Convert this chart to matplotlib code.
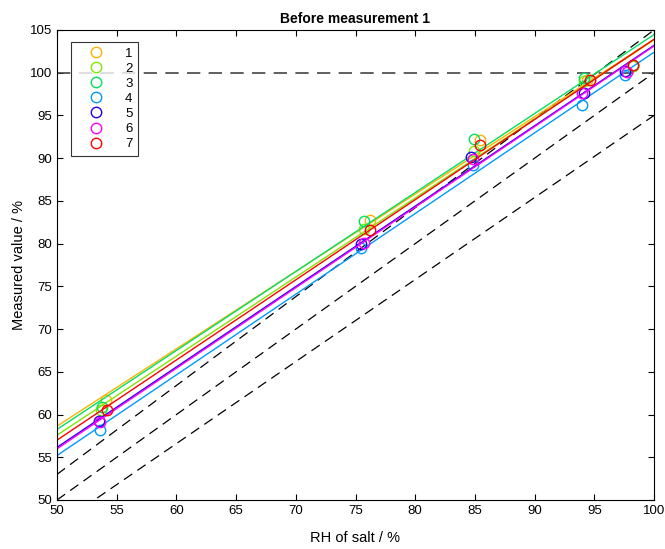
import matplotlib.pyplot as plt
import numpy as np

plt.rcParams['font.family'] = ['Liberation Sans', 'DejaVu Sans']

# salt reference RH (x) and sensor readings (y), one list per sensor
sensor_names = ['1', '2', '3', '4', '5', '6', '7']
sensor_colors = ['#FFB300', '#80E800', '#00E060', '#0099FF', '#2200EE', '#FF00FF', '#FF0000']

rh_salt = [
    [54.1, 76.2, 85.4, 94.4, 98.2],
    [53.7, 75.7, 84.9, 94.1, 98.2],
    [53.8, 75.7, 84.9, 94.1, 98.2],
    [53.6, 75.5, 84.8, 94.0, 97.6],
    [53.5, 75.5, 84.7, 94.1, 97.6],
    [53.6, 75.7, 84.8, 94.0, 97.7],
    [54.2, 76.2, 85.4, 94.6, 98.2],
]
measured = [
    [61.7, 82.8, 92.1, 99.1, 100.8],
    [60.5, 81.7, 90.8, 99.0, 100.8],
    [60.9, 82.6, 92.3, 99.4, 100.9],
    [58.2, 79.5, 89.2, 96.2, 99.7],
    [59.2, 79.9, 90.1, 97.6, 100.2],
    [59.1, 80.1, 89.9, 97.6, 100.1],
    [60.5, 81.6, 91.6, 99.2, 100.9],
]

fig = plt.figure(figsize=(6.65, 5.49), dpi=100)
ax = fig.add_axes([57 / 665, 49 / 549, 597 / 665, 470 / 549])

xs = np.array([50, 100])

# reference line and +/- (1 + 4 % of reading) tolerance band
tol_a, tol_b = 1.0, 0.04
dash = (0, (8, 5))
ax.plot(xs, xs, color='k', lw=0.9, linestyle=dash)
ax.plot(xs, xs + tol_a + tol_b * xs, color='k', lw=0.9, linestyle=dash)
ax.plot(xs, xs - tol_a - tol_b * xs, color='k', lw=0.9, linestyle=dash)
ax.plot(xs, [100, 100], color='#444444', lw=1.2, linestyle=dash)

handles = []
for name, col, x, y in zip(sensor_names, sensor_colors, rh_salt, measured):
    x = np.array(x)
    y = np.array(y)
    p = np.polyfit(x, y, 1)
    ax.plot(xs, np.polyval(p, xs), color=col, lw=1.0)
    h, = ax.plot(x, y, 'o', mfc='none', mec=col, ms=7.5, mew=1.0, label=name)
    handles.append(h)

ax.set_xlim(50, 100)
ax.set_ylim(50, 105)
ax.set_xticks(np.arange(50, 101, 5))
ax.set_yticks(np.arange(50, 106, 5))
ax.tick_params(direction='in', length=4, labelsize=9.5, top=True, right=True)
for s in ax.spines.values():
    s.set_linewidth(0.8)
ax.set_title('Before measurement 1', fontsize=10, fontweight='bold', pad=5)
ax.set_xlabel('RH of salt / %', fontsize=10.5, labelpad=10)
ax.set_ylabel('Measured value / %', fontsize=10.5, labelpad=3)

leg = ax.legend(handles=handles, loc='upper left', bbox_to_anchor=(14 / 597, 1 - 12 / 470),
                frameon=True, fancybox=False, edgecolor='k', fontsize=9.5,
                handlelength=3.0, handletextpad=0.7, labelspacing=0.22,
                borderpad=0.4, borderaxespad=0)
leg.get_frame().set_linewidth(0.8)

fig.savefig('out.png', dpi=100)
